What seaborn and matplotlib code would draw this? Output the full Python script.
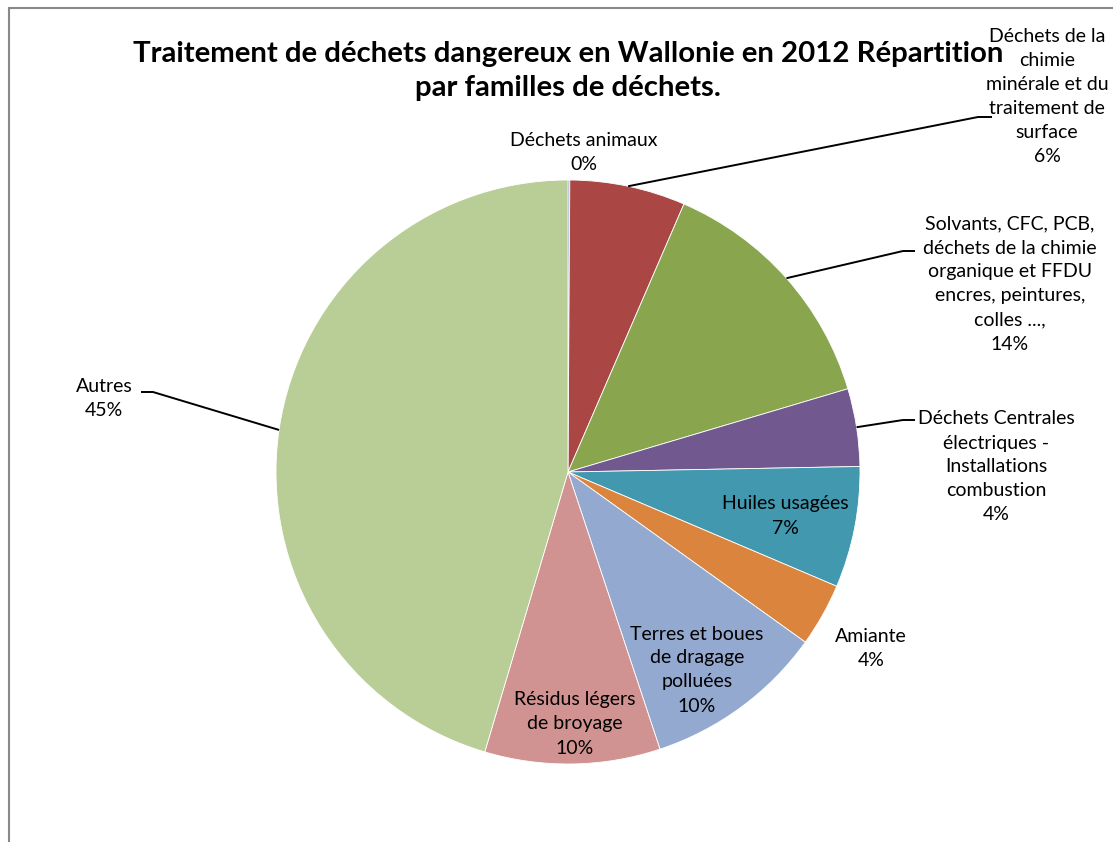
import numpy as np
import matplotlib
matplotlib.use("Agg")
import matplotlib.pyplot as plt
from matplotlib.lines import Line2D
import seaborn as sns

# ---- data ----
categories = [
    "Déchets animaux",
    "Déchets de la\nchimie\nminérale et du\ntraitement de\nsurface",
    "Solvants, CFC, PCB,\ndéchets de la chimie\norganique et FFDU\nencres, peintures,\ncolles ...,",
    "Déchets Centrales\nélectriques -\nInstallations\ncombustion",
    "Huiles usagées",
    "Amiante",
    "Terres et boues\nde dragage\npolluées",
    "Résidus légers\nde broyage",
    "Autres",
]
values = [0.1, 6.4, 13.9, 4.3, 6.7, 3.5, 10.0, 9.7, 45.4]
pct_labels = ["0%", "6%", "14%", "4%", "7%", "4%", "10%", "10%", "45%"]
colors = ["#4572A7", "#AA4643", "#89A54E", "#71588F", "#4198AF",
          "#DB843D", "#93A9CF", "#D19392", "#B9CD96"]
title = "Traitement de déchets dangereux en Wallonie en 2012 Répartition\npar familles de déchets."

# ---- style ----
sns.set_theme(style="white")
plt.rcParams['font.family'] = ['Lato', 'DejaVu Sans']
plt.rcParams['text.color'] = 'black'

W, H = 1113, 842
fig = plt.figure(figsize=(W / 100, H / 100), dpi=100)
ax = fig.add_axes([0, 0, 1, 1])

cx, cy, r = 568, H - 472, 292
wedges, _ = ax.pie(values, colors=colors, startangle=90, counterclock=False,
                   center=(cx, cy), radius=r, frame=True,
                   wedgeprops=dict(linewidth=0.6, edgecolor="white"))
ax.set_xlim(0, W)
ax.set_ylim(0, H)
ax.set_aspect("equal")
ax.axis("off")

# label placement (image pixel coordinates, y down)
label_pos = [(584, 152), (1047, 97), (1010, 284), (996, 467), (785, 516),
             (871, 648), (697, 670), (575, 724), (104, 399)]
# leader elbows: (inner x, outer x, y) ; None = no leader
leaders = [None, (978, 992, 117), (903, 915, 251), (903, 915, 420),
           None, None, None, None, (153, 141, 392)]

fs = 14
for i, (cat, pct) in enumerate(zip(categories, pct_labels)):
    x, y = label_pos[i]
    ax.text(x, H - y, f"{cat}\n{pct}", ha="center", va="center",
            fontsize=fs, color="black", linespacing=1.5, clip_on=False)
    if leaders[i] is not None:
        w = wedges[i]
        mid = np.deg2rad((w.theta1 + w.theta2) / 2)
        px, py = cx + r * np.cos(mid), cy + r * np.sin(mid)
        xi, xo, ly = leaders[i]
        ax.plot([px, xi, xo], [py, H - ly, H - ly], color="black", lw=1.4,
                solid_capstyle="butt")

ax.text(568, H - 71, title, ha="center", va="center", fontsize=21.2,
        fontweight="bold", color="black", linespacing=1.4)

# chart area border (partially cropped)
fig.add_artist(Line2D([9 / W, 9 / W], [0, 1 - 8 / H], transform=fig.transFigure,
                      color="#888888", lw=1.5))
fig.add_artist(Line2D([9 / W, 1], [1 - 8 / H, 1 - 8 / H], transform=fig.transFigure,
                      color="#888888", lw=1.5))

fig.savefig("out.png", dpi=100, facecolor="white")
